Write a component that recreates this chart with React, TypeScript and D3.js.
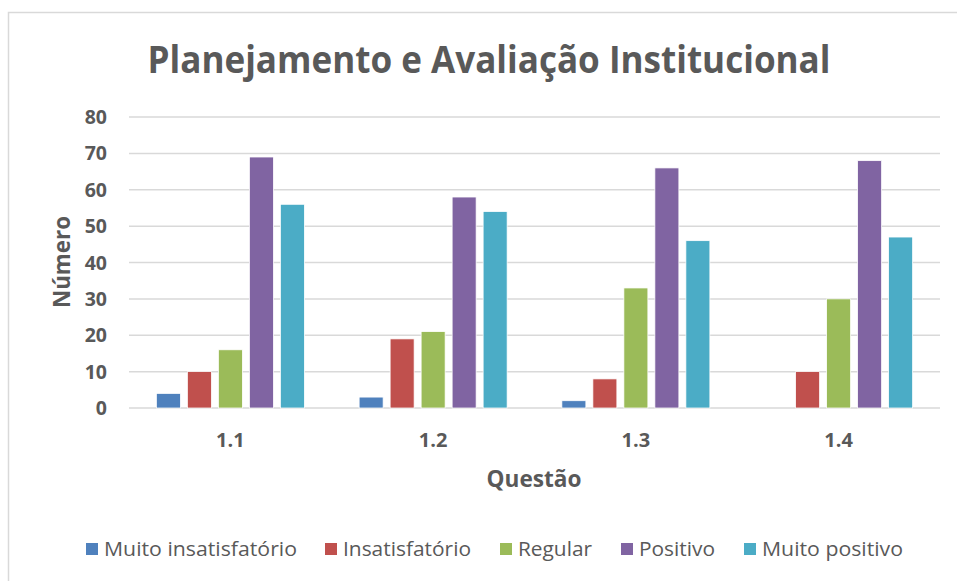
import React from "react";
import * as d3 from "d3";

const categories = ["1.1", "1.2", "1.3", "1.4"];
const seriesNames = ["Muito insatisfatório", "Insatisfatório", "Regular", "Positivo", "Muito positivo"];
const muitoInsatisfatorio = [4, 3, 2, 0];
const insatisfatorio = [10, 19, 8, 10];
const regular = [16, 21, 33, 30];
const positivo = [69, 58, 66, 68];
const muitoPositivo = [56, 54, 46, 47];
const yTicks = [0, 10, 20, 30, 40, 50, 60, 70, 80];
const colors = ["#4F81BD", "#C0504D", "#9BBB59", "#8064A2", "#4BACC6"];

const series = [muitoInsatisfatorio, insatisfatorio, regular, positivo, muitoPositivo];

const W = 957;
const H = 581;
const plotLeft = 129;
const plotRight = 940;
const plotTop = 117;
const plotBottom = 408;
const FONT = "'Open Sans', 'Liberation Sans', sans-serif";
const TXT = "#595959";

// legend layout (measured from reference)
const legendSquares = [86, 325, 500, 621, 744];
const legendWidths = [193, 128, 74, 76, 141];

export default function App() {
  const x0 = d3.scaleBand<string>().domain(categories).range([plotLeft, plotRight]).paddingInner(0).paddingOuter(0);
  const x1 = d3
    .scaleBand<number>()
    .domain(d3.range(series.length))
    .range([0, x0.bandwidth()])
    .paddingInner(0.226)
    .paddingOuter(0.883);
  const y = d3.scaleLinear().domain([0, 80]).range([plotBottom, plotTop]);

  return (
    <svg
      width={W}
      height={H}
      style={{ position: "absolute", left: 0, top: 0, display: "block", background: "#fff" }}
      fontFamily={FONT}
    >
      <rect x={8.5} y={12.5} width={W} height={H} fill="#fff" stroke="#d9d9d9" strokeWidth={1.5} />
      <text
        x={489}
        y={73}
        textAnchor="middle"
        fontSize={38}
        fontWeight="bold"
        fill={TXT}
        textLength={683}
        lengthAdjust="spacingAndGlyphs"
      >
        Planejamento e Avaliação Institucional
      </text>
      {yTicks.map((t) => (
        <g key={t}>
          <line x1={plotLeft} x2={plotRight} y1={y(t)} y2={y(t)} stroke="#d9d9d9" strokeWidth={1.5} />
          <text x={107} y={y(t) + 7} textAnchor="end" fontSize={19.5} fontWeight="bold" fill={TXT}>
            {t}
          </text>
        </g>
      ))}
      {categories.map((c, ci) => (
        <g key={c}>
          {series.map((s, si) =>
            s[ci] > 0 ? (
              <rect
                key={si}
                x={(x0(c) as number) + (x1(si) as number)}
                y={y(s[ci])}
                width={x1.bandwidth()}
                height={y(0) - y(s[ci])}
                fill={colors[si]}
                stroke="#fff"
                strokeWidth={0.75}
              />
            ) : null
          )}
          <text
            x={(x0(c) as number) + x0.bandwidth() / 2}
            y={447}
            textAnchor="middle"
            fontSize={20}
            fontWeight="bold"
            fill={TXT}
          >
            {c}
          </text>
        </g>
      ))}
      <text
        x={534}
        y={487}
        textAnchor="middle"
        fontSize={23}
        fontWeight="bold"
        fill={TXT}
        textLength={95}
        lengthAdjust="spacingAndGlyphs"
      >
        Questão
      </text>
      <text
        transform={`translate(70,262) rotate(-90)`}
        textAnchor="middle"
        fontSize={23}
        fontWeight="bold"
        fill={TXT}
        textLength={92}
        lengthAdjust="spacingAndGlyphs"
      >
        Número
      </text>
      {seriesNames.map((n, i) => (
        <g key={n}>
          <rect x={legendSquares[i]} y={543} width={12} height={12} fill={colors[i]} />
          <text
            x={legendSquares[i] + 18}
            y={556}
            fontSize={20}
            fill={TXT}
            textLength={legendWidths[i]}
            lengthAdjust="spacingAndGlyphs"
          >
            {n}
          </text>
        </g>
      ))}
    </svg>
  );
}
